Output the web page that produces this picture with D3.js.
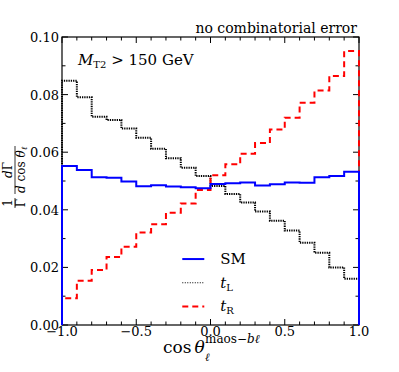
<!DOCTYPE html>
<html>
<head>
<meta charset="utf-8">
<script src="https://cdn.jsdelivr.net/npm/d3@7"></script>
<style>
  body { margin: 0; background: #fff; }
  svg { display: block; }
  svg text { font-family: "DejaVu Serif", "Liberation Serif", serif; }
</style>
</head>
<body>
<div id="chart"></div>
<script>
// bin edges go -1.0 .. 1.0 in steps of 0.1 (20 bins)
var binEdges = [-1.0, -0.9, -0.8, -0.7, -0.6, -0.5, -0.4, -0.3, -0.2, -0.1,
                0.0, 0.1, 0.2, 0.3, 0.4, 0.5, 0.6, 0.7, 0.8, 0.9, 1.0];

// SM
var smValues = [0.0552, 0.0538, 0.0513, 0.0511, 0.0498, 0.0482, 0.0485, 0.0481, 0.0478, 0.0475,
                0.0490, 0.0492, 0.0495, 0.0484, 0.0489, 0.0495, 0.0494, 0.0513, 0.0517, 0.0532];
// t_L
var tLValues = [0.0848, 0.0791, 0.0723, 0.0712, 0.0682, 0.0650, 0.0612, 0.0579, 0.0546, 0.0517,
                0.0483, 0.0455, 0.0425, 0.0394, 0.0362, 0.0328, 0.0286, 0.0251, 0.0200, 0.0161];
// t_R
var tRValues = [0.0093, 0.0154, 0.0191, 0.0236, 0.0272, 0.0321, 0.0350, 0.0390, 0.0422, 0.0469,
                0.0520, 0.0558, 0.0595, 0.0632, 0.0679, 0.0720, 0.0772, 0.0814, 0.0865, 0.0951];

var xMajorTicks = [-1.0, -0.5, 0.0, 0.5, 1.0];
var xTickLabels = ["\u22121.0", "\u22120.5", "0.0", "0.5", "1.0"];
var yMajorTicks = [0.00, 0.02, 0.04, 0.06, 0.08, 0.10];
var yTickLabels = ["0.00", "0.02", "0.04", "0.06", "0.08", "0.10"];

var W = 399, H = 372;
var margin = { left: 62, right: 40, top: 37, bottom: 47 };
var innerW = W - margin.left - margin.right;
var innerH = H - margin.top - margin.bottom;

var svg = d3.select("#chart").append("svg")
    .attr("width", W)
    .attr("height", H);

var g = svg.append("g")
    .attr("transform", "translate(" + margin.left + "," + margin.top + ")");

var x = d3.scaleLinear().domain([-1, 1]).range([0, innerW]);
var y = d3.scaleLinear().domain([0, 0.10]).range([innerH, 0]);

// Minor ticks every 0.1 / 0.01
var xMinor = d3.range(-10, 11).map(d => d / 10);
var yMinor = d3.range(0, 11).map(d => d / 100);

function isMajor(v, list) {
    return list.some(m => Math.abs(m - v) < 1e-9);
}

// Axes with inward ticks on all four sides
function tickLen(v, list) { return isMajor(v, list) ? 6 : 3.5; }

var ticks = g.append("g").attr("stroke", "#000").attr("stroke-width", 1);

xMinor.forEach(function(v) {
    var L = tickLen(v, xMajorTicks);
    ticks.append("line").attr("x1", x(v)).attr("x2", x(v)).attr("y1", innerH).attr("y2", innerH - L);
    ticks.append("line").attr("x1", x(v)).attr("x2", x(v)).attr("y1", 0).attr("y2", L);
});
yMinor.forEach(function(v) {
    var L = tickLen(v, yMajorTicks);
    ticks.append("line").attr("x1", 0).attr("x2", L).attr("y1", y(v)).attr("y2", y(v));
    ticks.append("line").attr("x1", innerW).attr("x2", innerW - L).attr("y1", y(v)).attr("y2", y(v));
});

// Tick labels
g.append("g").selectAll("text")
    .data(xMajorTicks)
    .enter().append("text")
    .attr("x", d => x(d))
    .attr("y", innerH + 11)
    .attr("text-anchor", "middle")
    .style("font-size", "13px")
    .text((d, i) => xTickLabels[i]);

g.append("g").selectAll("text")
    .data(yMajorTicks)
    .enter().append("text")
    .attr("x", -3)
    .attr("y", d => y(d) + 5)
    .attr("text-anchor", "end")
    .style("font-size", "13px")
    .text((d, i) => yTickLabels[i]);

// Frame
g.append("rect")
    .attr("x", 0).attr("y", 0)
    .attr("width", innerW).attr("height", innerH)
    .attr("fill", "none")
    .attr("stroke", "#000")
    .attr("stroke-width", 1.2);

// Histogram step outline
var stepLine = d3.line()
    .x(d => x(d[0]))
    .y(d => y(d[1]))
    .curve(d3.curveStepAfter);

function histPoints(values) {
    var pts = [[binEdges[0], 0]];
    for (var i = 0; i < values.length; i++) pts.push([binEdges[i], values[i]]);
    pts.push([binEdges[binEdges.length - 1], values[values.length - 1]]);
    pts.push([binEdges[binEdges.length - 1], 0]);
    return pts;
}

var series = [
    { name: "tL", values: tLValues, color: "#000000", width: 2, dash: "1.3,1" },
    { name: "tR", values: tRValues, color: "#ff0000", width: 2, dash: "6,4" },
    { name: "SM", values: smValues, color: "#0000ff", width: 2, dash: null }
];

series.forEach(function(s) {
    g.append("path")
        .attr("d", stepLine(histPoints(s.values)))
        .attr("fill", "none")
        .attr("stroke", s.color)
        .attr("stroke-width", s.width)
        .attr("stroke-dasharray", s.dash);
});

// Legend
var legendItems = [
    { label: "SM", sub: null, color: "#0000ff", width: 2, dash: null },
    { label: "t", sub: "L", color: "#000000", width: 1.2, dash: "1,1.5" },
    { label: "t", sub: "R", color: "#ff0000", width: 2, dash: "6,4" }
];
var legend = g.append("g").attr("transform", "translate(" + x(-0.19) + "," + y(0.0229) + ")");
legendItems.forEach(function(item, i) {
    var row = legend.append("g").attr("transform", "translate(0," + (i * 23.7) + ")");
    row.append("line")
        .attr("x1", 0).attr("x2", 22)
        .attr("y1", 0).attr("y2", 0)
        .attr("stroke", item.color)
        .attr("stroke-width", item.width)
        .attr("stroke-dasharray", item.dash);
    var t = row.append("text")
        .attr("x", 38).attr("y", 5)
        .style("font-size", "15px");
    if (item.sub) {
        t.append("tspan").style("font-style", "italic").text(item.label);
        t.append("tspan").attr("dy", 3).style("font-size", "10px").text(item.sub);
    } else {
        t.text(item.label);
    }
});

// In-plot annotation
var ann = g.append("text")
    .attr("x", 16).attr("y", 28)
    .style("font-size", "15px");
ann.append("tspan").style("font-style", "italic").text("M");
ann.append("tspan").attr("dy", 3).style("font-size", "10px").text("T2");
ann.append("tspan").attr("dy", -3).text(" > 150 GeV");

// Title
svg.append("text")
    .attr("x", margin.left + innerW - 2)
    .attr("y", 33)
    .attr("text-anchor", "end")
    .style("font-size", "14px")
    .text("no combinatorial error");

// X axis label: cos θ_ℓ^{maos−bℓ}
var xl = svg.append("g");
var xlMain = xl.append("text")
    .attr("x", 163).attr("y", 353)
    .style("font-size", "17px");
xlMain.append("tspan").text("cos");
xlMain.append("tspan").attr("dx", 3).style("font-style", "italic").text("\u03b8");
var xlSup = xl.append("text")
    .attr("x", 205).attr("y", 343)
    .style("font-size", "12px");
xlSup.append("tspan").text("maos\u2212");
xlSup.append("tspan").style("font-style", "italic").text("b\u2113");
xl.append("text")
    .attr("x", 205).attr("y", 361)
    .style("font-size", "11px")
    .style("font-style", "italic")
    .text("\u2113");

// Y axis label: (1/Γ) dΓ / d cos θℓ, rotated
var yl = svg.append("g").attr("transform", "translate(15,178) rotate(-90)");
// 1/Γ
yl.append("text").attr("x", -25).attr("y", -3).attr("text-anchor", "middle")
    .style("font-size", "12px").text("1");
yl.append("line").attr("x1", -30).attr("x2", -20).attr("y1", 0).attr("y2", 0)
    .attr("stroke", "#000").attr("stroke-width", 0.8);
yl.append("text").attr("x", -25).attr("y", 10).attr("text-anchor", "middle")
    .style("font-size", "12px").text("\u0393");
// dΓ / d cos θℓ
var num = yl.append("text").attr("x", 8).attr("y", -3).attr("text-anchor", "middle")
    .style("font-size", "12px");
num.append("tspan").style("font-style", "italic").text("d");
num.append("tspan").text("\u0393");
yl.append("line").attr("x1", -16).attr("x2", 32).attr("y1", 0).attr("y2", 0)
    .attr("stroke", "#000").attr("stroke-width", 0.8);
var den = yl.append("text").attr("x", 8).attr("y", 10).attr("text-anchor", "middle")
    .style("font-size", "12px");
den.append("tspan").style("font-style", "italic").text("d");
den.append("tspan").text(" cos ");
den.append("tspan").style("font-style", "italic").text("\u03b8");
den.append("tspan").attr("dy", 2).style("font-size", "8px").style("font-style", "italic").text("\u2113");
</script>
</body>
</html>
